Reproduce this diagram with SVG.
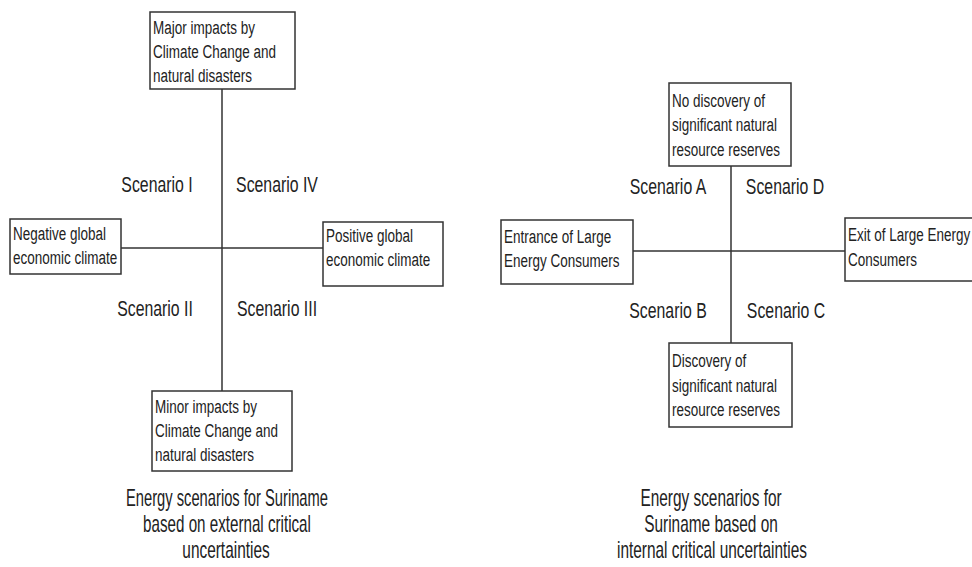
<svg xmlns="http://www.w3.org/2000/svg" width="972" height="567" viewBox="0 0 972 567">
<style>
text{font-family:"Liberation Sans",Arial,sans-serif;fill:#222}
.bx{fill:#fff;stroke:#333;stroke-width:1.5}
.ln{stroke:#333;stroke-width:1.5;fill:none}
.bt{font-size:19px}
.sc{font-size:22px;text-anchor:middle}
.cap{font-size:23px;text-anchor:middle}
</style>
<rect width="972" height="567" fill="#fff"/>
<g id="connectors">
<line class="ln" x1="222" y1="89" x2="222" y2="391"/>
<line class="ln" x1="121" y1="248" x2="323" y2="248"/>
<line class="ln" x1="731" y1="166" x2="731" y2="343"/>
<line class="ln" x1="633" y1="251" x2="845" y2="251"/>
</g>
<g id="major">
<rect class="bx" x="150" y="12" width="145" height="77"/>
<text class="bt" transform="translate(153,34) scale(0.71,1)">Major impacts by</text>
<text class="bt" transform="translate(153,58) scale(0.71,1)">Climate Change and</text>
<text class="bt" transform="translate(153,82) scale(0.71,1)">natural disasters</text>
</g>
<g id="negative">
<rect class="bx" x="10" y="219" width="111" height="55"/>
<text class="bt" transform="translate(13,240) scale(0.71,1)">Negative global</text>
<text class="bt" transform="translate(13,264) scale(0.71,1)">economic climate</text>
</g>
<g id="positive">
<rect class="bx" x="323" y="222" width="120" height="64"/>
<text class="bt" transform="translate(326,242) scale(0.71,1)">Positive global</text>
<text class="bt" transform="translate(326,266) scale(0.71,1)">economic climate</text>
</g>
<g id="minor">
<rect class="bx" x="152" y="391" width="140" height="80"/>
<text class="bt" transform="translate(155,413) scale(0.71,1)">Minor impacts by</text>
<text class="bt" transform="translate(155,437) scale(0.71,1)">Climate Change and</text>
<text class="bt" transform="translate(155,461) scale(0.71,1)">natural disasters</text>
</g>
<g id="scenarios-left">
<text class="sc" transform="translate(157,192) scale(0.72,1)">Scenario I</text>
<text class="sc" transform="translate(277,192) scale(0.72,1)">Scenario IV</text>
<text class="sc" transform="translate(155,316) scale(0.72,1)">Scenario II</text>
<text class="sc" transform="translate(277,316) scale(0.72,1)">Scenario III</text>
</g>
<g id="caption-left">
<text class="cap" transform="translate(227,506) scale(0.64,1)">Energy scenarios for Suriname</text>
<text class="cap" transform="translate(227,532) scale(0.66,1)">based on external critical</text>
<text class="cap" transform="translate(226,558) scale(0.67,1)">uncertainties</text>
</g>
<g id="no-discovery">
<rect class="bx" x="669" y="83" width="122" height="83"/>
<text class="bt" transform="translate(672,107) scale(0.71,1)">No discovery of</text>
<text class="bt" transform="translate(672,131) scale(0.71,1)">significant natural</text>
<text class="bt" transform="translate(672,156) scale(0.71,1)">resource reserves</text>
</g>
<g id="entrance">
<rect class="bx" x="501" y="220" width="132" height="64"/>
<text class="bt" transform="translate(504,243) scale(0.71,1)">Entrance of Large</text>
<text class="bt" transform="translate(504,267) scale(0.71,1)">Energy Consumers</text>
</g>
<g id="exit">
<rect class="bx" x="845" y="218" width="130" height="63"/>
<text class="bt" transform="translate(848,241) scale(0.71,1)">Exit of Large Energy</text>
<text class="bt" transform="translate(848,266) scale(0.71,1)">Consumers</text>
</g>
<g id="discovery">
<rect class="bx" x="669" y="343" width="123" height="84"/>
<text class="bt" transform="translate(672,367) scale(0.71,1)">Discovery of</text>
<text class="bt" transform="translate(672,392) scale(0.71,1)">significant natural</text>
<text class="bt" transform="translate(672,416) scale(0.71,1)">resource reserves</text>
</g>
<g id="scenarios-right">
<text class="sc" transform="translate(668,194) scale(0.72,1)">Scenario A</text>
<text class="sc" transform="translate(785,194) scale(0.72,1)">Scenario D</text>
<text class="sc" transform="translate(668,318) scale(0.72,1)">Scenario B</text>
<text class="sc" transform="translate(786,318) scale(0.72,1)">Scenario C</text>
</g>
<g id="caption-right">
<text class="cap" transform="translate(711,506) scale(0.67,1)">Energy scenarios for</text>
<text class="cap" transform="translate(711,532) scale(0.67,1)">Suriname based on</text>
<text class="cap" transform="translate(712,558) scale(0.67,1)">internal critical uncertainties</text>
</g>
</svg>
